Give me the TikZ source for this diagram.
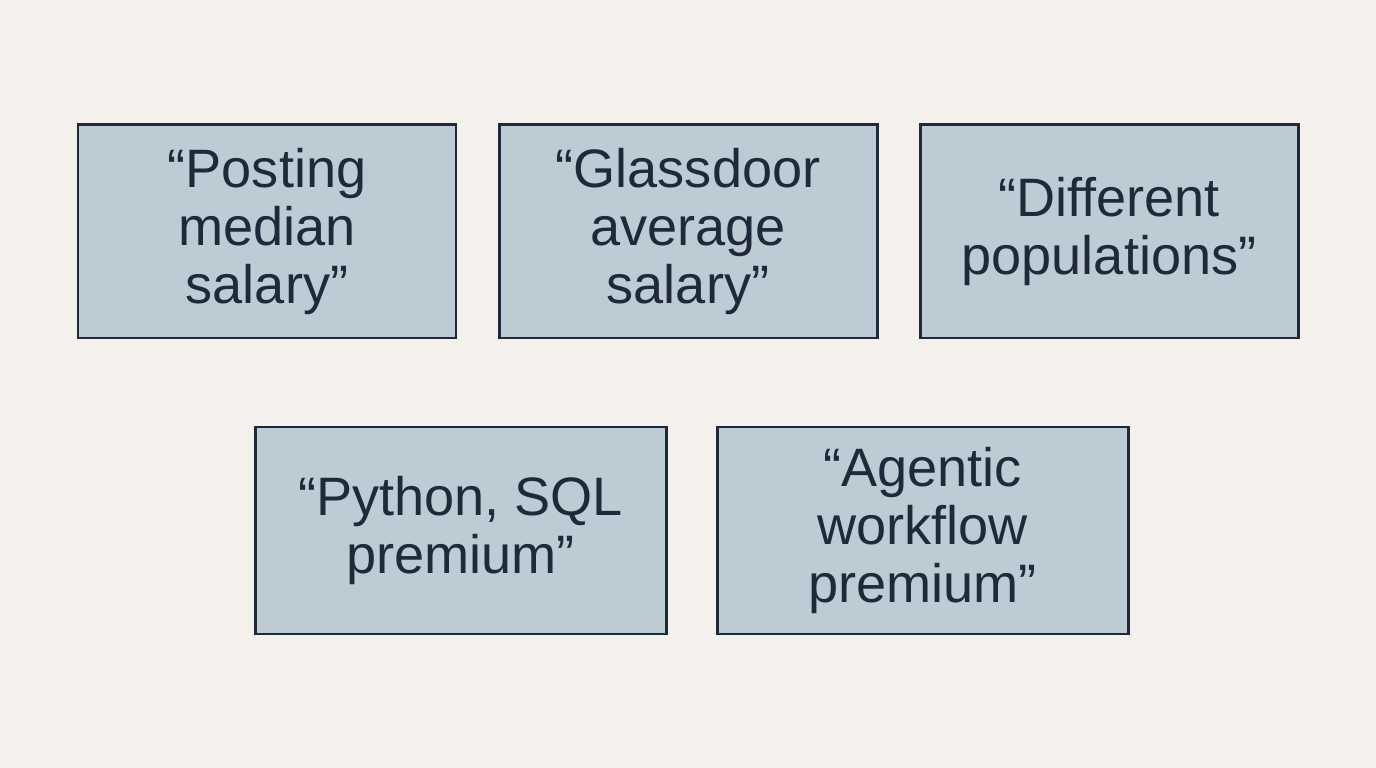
\documentclass[tikz,border=0pt]{standalone}
\usepackage{fontspec}
\setmainfont{Liberation Sans}
\usetikzlibrary{positioning}
\definecolor{paper}{HTML}{F4F1EC}
\definecolor{slate}{HTML}{BDCBD5}
\definecolor{ink}{HTML}{1E2A3A}
\tikzset{
  claim/.style={draw=ink,line width=0.85pt,fill=slate,text=ink,align=center,inner sep=0pt,font=\fontsize{15.4}{16.5}\selectfont},
  toprow/.style={claim,minimum width=37.8mm,minimum height=21.3mm},
  botrow/.style={claim,minimum width=41.1mm,minimum height=20.7mm}
}
\begin{document}
\begin{tikzpicture}[x=0.1mm,y=-0.1mm]
\fill[paper] (0,0) rectangle (1376,768);
% top row
\node[toprow] (posting) at (267,231.5) {“Posting\\median\\salary”};
\node[toprow] (glassdoor) at (688,231.5) {“Glassdoor\\average\\salary”};
\node[toprow] (populations) at (1109,231.5) {“Different\\populations”};
% bottom row
\node[botrow] (pysql) at (460.5,530.5) {“Python, SQL\\premium”};
\node[botrow] (agentic) at (922.5,530.5) {“Agentic\\workflow\\premium”};
\end{tikzpicture}
\end{document}
